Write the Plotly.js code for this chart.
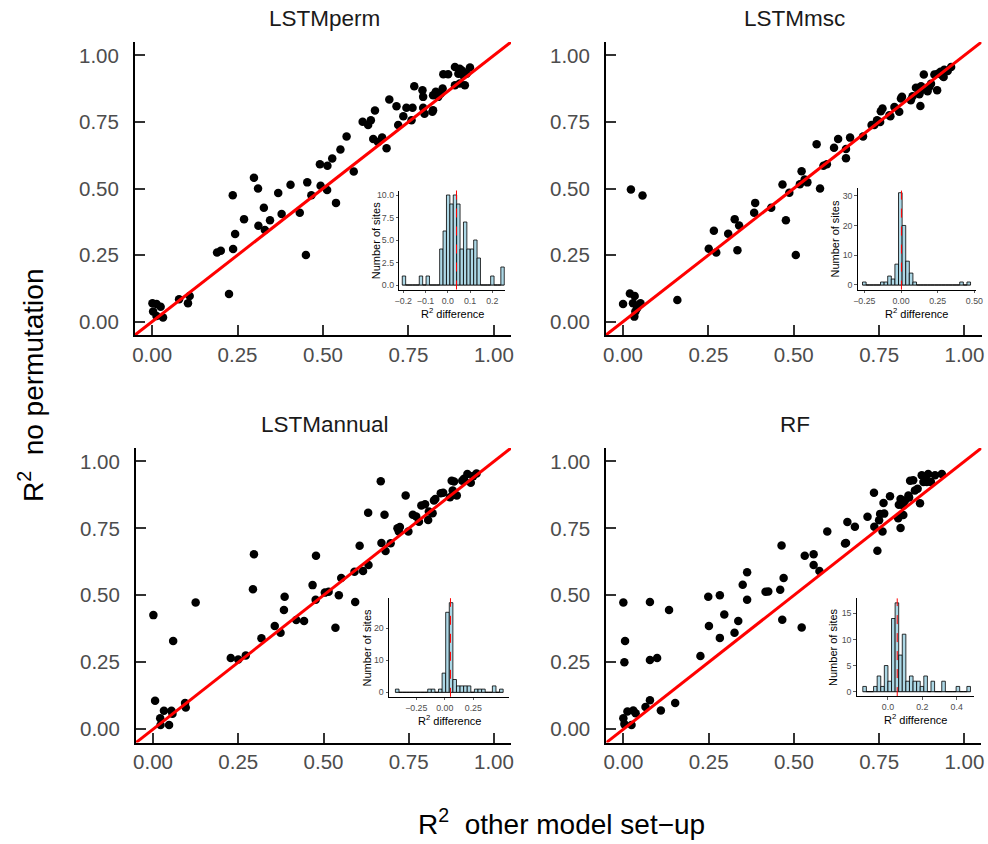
<!DOCTYPE html>
<html>
<head>
<meta charset="utf-8">
<script src="https://cdn.plot.ly/plotly-3.0.1.min.js"></script>
<style>html,body{margin:0;padding:0;background:#fff;}#chart{width:988px;height:844px;}</style>
</head>
<body>
<div id="chart"></div>
<script>
// ---------------- data ----------------
const panelNames = ['LSTMperm', 'LSTMmsc', 'LSTMannual', 'RF'];

const permX = [0.001,0.013,0.025,0.003,0.013,0.032,0.079,0.105,0.110,0.225,0.190,0.201,0.237,0.243,0.269,0.311,0.330,0.327,0.345,0.379,0.236,0.298,0.310,0.369,0.405,0.432,0.450,0.454,0.466,0.493,0.512,0.538,0.491,0.513,0.527,0.551,0.569,0.590,0.616,0.632,0.640,0.652,0.647,0.661,0.673,0.686,0.694,0.715,0.720,0.735,0.744,0.762,0.759,0.767,0.791,0.793,0.793,0.797,0.820,0.822,0.830,0.844,0.850,0.852,0.866,0.886,0.896,0.905,0.910,0.930,0.900,0.915,0.886,0.920,0.837,0.900,0.910,0.822];
const permY = [0.069,0.066,0.056,0.038,0.021,0.016,0.084,0.069,0.096,0.104,0.260,0.266,0.273,0.329,0.385,0.360,0.344,0.428,0.381,0.404,0.475,0.540,0.500,0.483,0.514,0.409,0.250,0.523,0.475,0.510,0.494,0.446,0.591,0.585,0.613,0.646,0.695,0.564,0.751,0.738,0.756,0.793,0.686,0.675,0.691,0.651,0.834,0.809,0.738,0.771,0.803,0.803,0.756,0.884,0.869,0.844,0.803,0.781,0.788,0.850,0.863,0.856,0.875,0.929,0.929,0.956,0.931,0.944,0.925,0.954,0.894,0.888,0.888,0.931,0.844,0.950,0.938,0.794];

const mscX = [0.000,0.020,0.029,0.034,0.036,0.043,0.051,0.033,0.041,0.023,0.057,0.159,0.251,0.266,0.273,0.308,0.327,0.335,0.340,0.384,0.387,0.434,0.467,0.477,0.487,0.506,0.518,0.523,0.532,0.540,0.577,0.567,0.587,0.597,0.618,0.630,0.653,0.653,0.665,0.703,0.728,0.744,0.753,0.755,0.760,0.783,0.795,0.809,0.814,0.817,0.848,0.858,0.868,0.871,0.873,0.881,0.892,0.902,0.912,0.920,0.930,0.936,0.941,0.951,0.961,0.939,0.922,0.736,0.780,0.843,0.897,0.873];
const mscY = [0.066,0.106,0.069,0.096,0.038,0.056,0.069,0.019,0.050,0.496,0.474,0.081,0.274,0.341,0.260,0.330,0.385,0.268,0.361,0.409,0.446,0.428,0.515,0.381,0.484,0.250,0.516,0.565,0.534,0.523,0.500,0.666,0.585,0.591,0.653,0.686,0.648,0.614,0.691,0.695,0.738,0.756,0.750,0.790,0.800,0.771,0.806,0.788,0.838,0.844,0.846,0.878,0.854,0.810,0.884,0.928,0.865,0.893,0.928,0.869,0.938,0.923,0.946,0.941,0.956,0.919,0.931,0.738,0.775,0.831,0.881,0.869];

const annualX = [0.001,0.006,0.021,0.022,0.032,0.047,0.054,0.057,0.059,0.094,0.096,0.125,0.228,0.250,0.272,0.293,0.296,0.318,0.357,0.374,0.384,0.386,0.420,0.443,0.468,0.478,0.477,0.504,0.515,0.535,0.545,0.552,0.593,0.591,0.606,0.616,0.632,0.631,0.668,0.670,0.679,0.682,0.697,0.717,0.724,0.721,0.741,0.749,0.762,0.772,0.780,0.787,0.798,0.807,0.809,0.820,0.824,0.828,0.844,0.851,0.871,0.876,0.883,0.879,0.891,0.907,0.912,0.922,0.932,0.939,0.949];
const annualY = [0.426,0.106,0.041,0.016,0.069,0.016,0.069,0.058,0.329,0.098,0.081,0.473,0.266,0.260,0.275,0.523,0.653,0.340,0.385,0.360,0.445,0.495,0.408,0.404,0.538,0.648,0.483,0.510,0.513,0.379,0.500,0.565,0.475,0.588,0.685,0.591,0.613,0.808,0.926,0.695,0.801,0.665,0.694,0.750,0.755,0.738,0.873,0.738,0.801,0.794,0.775,0.835,0.840,0.781,0.813,0.806,0.854,0.860,0.881,0.883,0.866,0.928,0.925,0.891,0.873,0.928,0.935,0.953,0.920,0.945,0.955];

const rfX = [0.000,0.005,0.003,0.000,0.003,0.024,0.012,0.029,0.036,0.065,0.078,0.078,0.078,0.099,0.110,0.134,0.152,0.226,0.249,0.251,0.283,0.283,0.296,0.326,0.337,0.350,0.363,0.363,0.417,0.425,0.460,0.464,0.466,0.470,0.523,0.532,0.558,0.558,0.575,0.598,0.650,0.653,0.657,0.679,0.716,0.735,0.736,0.745,0.750,0.753,0.763,0.765,0.760,0.782,0.806,0.808,0.813,0.813,0.821,0.826,0.838,0.841,0.850,0.855,0.863,0.870,0.875,0.880,0.885,0.894,0.902,0.914,0.934,0.836,0.890,0.821];
const rfY = [0.473,0.329,0.250,0.041,0.019,0.016,0.066,0.070,0.060,0.083,0.108,0.475,0.258,0.266,0.070,0.445,0.098,0.273,0.495,0.385,0.500,0.341,0.428,0.360,0.404,0.539,0.586,0.483,0.513,0.514,0.521,0.686,0.409,0.565,0.380,0.648,0.653,0.613,0.591,0.738,0.693,0.695,0.774,0.756,0.793,0.883,0.756,0.666,0.780,0.804,0.845,0.805,0.738,0.870,0.788,0.838,0.751,0.860,0.800,0.854,0.865,0.928,0.930,0.891,0.898,0.844,0.948,0.923,0.935,0.953,0.923,0.948,0.953,0.873,0.923,0.835];

// histogram of R2 differences: 30 bins, counts per bin, centre of first and last bin
const permCounts   = [1,0,0,0,0,1,0,1,0,0,0,4,6,10,9,10,9,4,7,4,4,5,3,0,0,0,1,0,0,2];
const mscCounts    = [1,0,0,0,0,1,1,3,2,7,31,20,8,4,1,0,0,0,0,0,0,0,0,0,0,0,0,1,0,1];
const annualCounts = [1,0,0,0,0,0,0,0,0,1,1,0,1,6,25,28,4,2,2,2,2,0,1,1,1,0,0,2,0,1];
const rfCounts     = [1,0,0,1,3,1,5,2,14,17,7,11,2,3,2,2,1,3,0,2,0,0,2,0,0,0,1,0,0,1];
const permBins   = [-0.197, 0.246];
const mscBins    = [-0.250, 0.4615];
const annualBins = [-0.417, 0.496];
const rfBins     = [-0.136, 0.470];
const meanDiff = [0.039, 0.003, 0.05, 0.054];

// inset axes
const insetXRange = [[-0.218, 0.257], [-0.295, 0.511], [-0.489, 0.563], [-0.182, 0.501]];
const insetYRange = [[-0.5, 10.5], [-1.55, 32.55], [-1.4, 29.4], [-0.85, 17.85]];
const insetXTicks = [[-0.2,-0.1,0,0.1,0.2], [-0.25,0,0.25,0.5], [-0.25,0,0.25], [0,0.2,0.4]];
const insetXFmt = ['.1f', '.2f', '.2f', '.1f'];
const insetYTicks = [[0,2.5,5,7.5,10], [0,10,20,30], [0,10,20], [0,5,10,15]];
const insetYFmt = ['.1f', 'd', 'd', 'd'];

const mainRange = [-0.05, 1.05];
const mainTicks = [0, 0.25, 0.5, 0.75, 1.0];

// ---------------- layout geometry (pixels) ----------------
const W = 988, H = 844;
const fx = p => p / W;
const fy = p => 1 - p / H;
const mainBox = [ // [left, right, top, bottom]
  [135, 511, 42, 335],
  [606, 981.5, 42, 335],
  [136, 511, 448, 742.6],
  [606.3, 981.4, 448, 742.6]
];
const insetBox = [
  [399.3, 505, 190.5, 289.5],
  [857.7, 976, 188.1, 289.6],
  [389, 509, 598.2, 696.8],
  [856.7, 974, 598.4, 696.1]
];

const xs = [permX, mscX, annualX, rfX];
const ys = [permY, mscY, annualY, rfY];
const counts = [permCounts, mscCounts, annualCounts, rfCounts];
const bins = [permBins, mscBins, annualBins, rfBins];

const FONT = 'Liberation Sans, Arial, Helvetica, sans-serif';
const traces = [];
const layout = {
  width: W, height: H,
  margin: {l: 0, r: 0, t: 0, b: 0},
  paper_bgcolor: '#fff', plot_bgcolor: 'rgba(0,0,0,0)',
  showlegend: false,
  font: {family: FONT},
  shapes: [], annotations: []
};

for (let i = 0; i < 4; i++) {
  const n = i + 1, m = i + 5;
  const xa = 'x' + (n === 1 ? '' : n), ya = 'y' + (n === 1 ? '' : n);
  const xi = 'x' + m, yi = 'y' + m;
  const b = mainBox[i], ib = insetBox[i];

  traces.push({
    type: 'scatter', mode: 'markers', x: xs[i], y: ys[i], xaxis: xa, yaxis: ya,
    marker: {color: '#000', size: 8.5}, hoverinfo: 'skip'
  });
  traces.push({
    type: 'scatter', mode: 'lines', x: mainRange, y: mainRange, xaxis: xa, yaxis: ya,
    line: {color: '#FF0000', width: 3}, hoverinfo: 'skip'
  });

  const c = counts[i];
  const w = (bins[i][1] - bins[i][0]) / (c.length - 1);
  const centers = c.map((_, k) => bins[i][0] + k * w);
  traces.push({
    type: 'bar', x: centers, y: c, width: w, xaxis: xi, yaxis: yi,
    marker: {color: '#ADD8E6', line: {color: '#000', width: 0.8}}, hoverinfo: 'skip'
  });
  // outline of the empty bins along zero
  layout.shapes.push({
    type: 'line', layer: 'below', xref: xi, yref: yi,
    x0: bins[i][0] - w / 2, x1: bins[i][1] + w / 2, y0: 0, y1: 0,
    line: {color: '#333', width: 0.8}
  });

  const mainAx = {
    range: mainRange, tickvals: mainTicks, tickformat: '.2f',
    showgrid: false, zeroline: false, showline: true, linecolor: '#000', linewidth: 2,
    ticks: 'inside', ticklen: 10, tickwidth: 2, tickcolor: '#333',
    tickfont: {size: 20.5, color: '#4D4D4D', family: FONT}
  };
  layout['xaxis' + (n === 1 ? '' : n)] = Object.assign({}, mainAx, {
    domain: [fx(b[0]), fx(b[1])], anchor: ya, ticklabelstandoff: 0
  });
  layout['yaxis' + (n === 1 ? '' : n)] = Object.assign({}, mainAx, {
    domain: [fy(b[3]), fy(b[2])], anchor: xa, ticklabelstandoff: 10
  });

  const insAx = {
    showgrid: false, zeroline: false, showline: true, linecolor: '#000', linewidth: 1,
    ticks: 'outside', ticklen: 2.5, tickwidth: 0.8, tickcolor: '#333',
    tickfont: {size: 8.8, color: '#4D4D4D', family: FONT}
  };
  layout['xaxis' + m] = Object.assign({}, insAx, {
    domain: [fx(ib[0]), fx(ib[1])], anchor: yi, range: insetXRange[i],
    tickvals: insetXTicks[i], tickformat: insetXFmt[i]
  });
  layout['yaxis' + m] = Object.assign({}, insAx, {
    domain: [fy(ib[3]), fy(ib[2])], anchor: xi, range: insetYRange[i],
    tickvals: insetYTicks[i], tickformat: insetYFmt[i]
  });

  layout.shapes.push({
    type: 'line', xref: xi, yref: yi + ' domain', x0: meanDiff[i], x1: meanDiff[i], y0: 0, y1: 1,
    line: {color: '#FF0000', width: 1, dash: 'dash'}
  });

  // panel title
  layout.annotations.push({
    text: panelNames[i], xref: 'paper', yref: 'paper',
    x: fx((b[0] + b[1]) / 2 + 1), y: fy(b[2] - 24), xanchor: 'center', yanchor: 'middle',
    showarrow: false, font: {size: 22.5, color: '#1A1A1A', family: FONT}
  });
  // inset titles
  layout.annotations.push({
    text: 'R<sup>2</sup> difference', xref: 'paper', yref: 'paper',
    x: fx((ib[0] + ib[1]) / 2), y: fy(ib[3] + 23), xanchor: 'center', yanchor: 'middle',
    showarrow: false, font: {size: 11, color: '#000', family: FONT}
  });
  layout.annotations.push({
    text: 'Number of sites', xref: 'paper', yref: 'paper', textangle: -90,
    x: fx(ib[0] - 23), y: fy((ib[2] + ib[3]) / 2), xanchor: 'center', yanchor: 'middle',
    showarrow: false, font: {size: 11, color: '#000', family: FONT}
  });
}

layout.annotations.push({
  text: 'R<sup>2</sup>  other model set\u2212up', xref: 'paper', yref: 'paper',
  x: fx(561), y: fy(822), xanchor: 'center', yanchor: 'middle',
  showarrow: false, font: {size: 28, color: '#000', family: FONT}
});
layout.annotations.push({
  text: 'R<sup>2</sup>  no permutation', xref: 'paper', yref: 'paper', textangle: -90,
  x: fx(31), y: fy(386), xanchor: 'center', yanchor: 'middle',
  showarrow: false, font: {size: 28, color: '#000', family: FONT}
});

Plotly.newPlot('chart', traces, layout, {staticPlot: true, displayModeBar: false});
</script>
</body>
</html>
